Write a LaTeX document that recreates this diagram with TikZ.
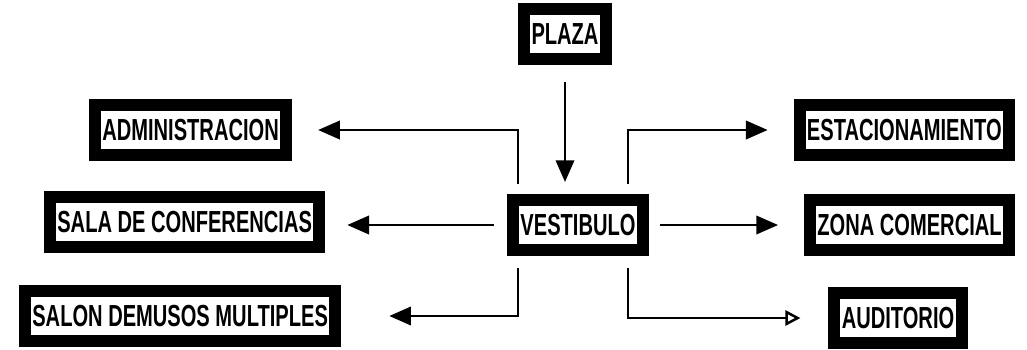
\documentclass[tikz,border=0pt]{standalone}
\usepackage{fontspec}
\setmainfont{Liberation Sans}[FakeStretch=0.66]
\usetikzlibrary{arrows.meta}

\begin{document}
\begin{tikzpicture}[
      x=0.3mm, y=-0.3mm,
      area/.style={draw, line width=3.6mm, fill=white, inner xsep=2.2mm, inner ysep=0pt, minimum height=15mm, font=\fontsize{26pt}{30pt}\selectfont\bfseries},
      access/.style={-{Triangle[length=6.5mm, width=5.5mm]}, line width=0.75mm},
      opentip/.style={-{Triangle[open, length=4.5mm, width=4.5mm]}, line width=0.75mm}
    ]
    \useasboundingbox (0,0) rectangle (1027,349);

    \node[area] (plaza) at (565,34) {PLAZA};
    \node[area] (vest) at (578,225) {VESTIBULO};
    \node[area, anchor=west] (admin) at (89,130) {ADMINISTRACION};
    \node[area, anchor=west] (sala) at (44,222) {SALA DE CONFERENCIAS};
    \node[area, anchor=west] (salon) at (19,316) {SALON DEMUSOS MULTIPLES};
    \node[area, anchor=east] (estac) at (1015,130) {ESTACIONAMIENTO};
    \node[area, anchor=east] (zona) at (1015,225) {ZONA COMERCIAL};
    \node[area] (audit) at (898,318) {AUDITORIO};

    \draw[access, shorten <=5mm, shorten >=3.6mm] (plaza.south) -- (plaza.south |- vest.north);
    \draw[access, shorten <=3mm, shorten >=7.8mm] ([xshift=-18mm]vest.north) |- (admin.east);
    \draw[access, shorten <=3mm, shorten >=7.8mm] ([xshift=15mm]vest.north) |- (estac.west);
    \draw[access, shorten <=3.9mm, shorten >=6.6mm] (vest.west) -- (vest.west -| sala.east);
    \draw[access, shorten <=3.3mm, shorten >=7.8mm] (vest.east) -- (vest.east -| zona.west);
    \draw[access, shorten <=3.6mm, shorten >=14.4mm] ([xshift=-18mm]vest.south) |- (salon.east);
    \draw[opentip, shorten <=3.6mm, shorten >=8.4mm] ([xshift=15mm]vest.south) |- (audit.west);
  \end{tikzpicture}
\end{document}
